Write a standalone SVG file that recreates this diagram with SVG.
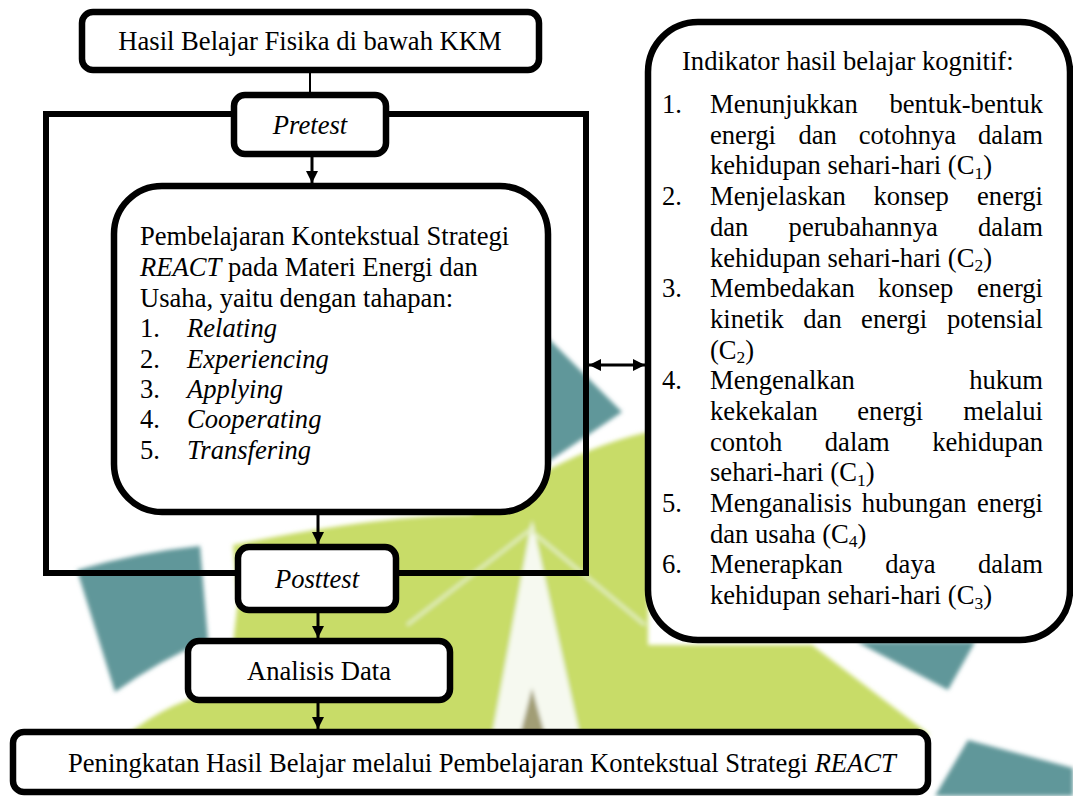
<svg xmlns="http://www.w3.org/2000/svg" width="1073" height="796" viewBox="0 0 1073 796">
<defs>
<style>
.t{font-family:"Liberation Serif","Times New Roman",serif;font-size:26.6px;fill:#000}
.i{font-style:italic}
.box{fill:#fff;stroke:#000;stroke-width:6.5}
.frame{fill:none;stroke:#000;stroke-width:6}
.con{stroke:#000;stroke-width:3;fill:none}
.thin{stroke:#000;stroke-width:2;fill:none}
.sub{font-size:17.5px}
.teal{fill:#61979a}
.lime{fill:#c8dc68}
</style>
<marker id="ah" viewBox="0 0 12 12" refX="12" refY="6" markerWidth="12" markerHeight="12" markerUnits="userSpaceOnUse" orient="auto-start-reverse"><path d="M0,0 L12,6 L0,12 Z" fill="#000"/></marker>
<filter id="soft" x="-5%" y="-5%" width="110%" height="110%"><feGaussianBlur stdDeviation="2"/></filter>
</defs>
<rect x="0" y="0" width="1073" height="796" fill="#fff"/>
<g id="watermark" filter="url(#soft)">
<path class="lime" d="M233,545 Q380,515 470,515 L530,480 Q590,445 648,432 L648,645 L812,645 L930,735 L127,735 Q170,700 228,688 L238,600 Z"/>
<path class="teal" d="M77,570 Q140,552 200,546 L208,640 Q160,660 115,692 Z"/>
<path class="teal" d="M548,338 L622,412 L548,462 Z"/>
<path class="teal" d="M857,642 L975,642 L948,690 Z"/>
<path class="teal" d="M935,796 L968,740 L1073,768 L1073,796 Z"/>
<path d="M532,520 L492,735 L580,735 Z" fill="#f6f9f0"/>
<path d="M532,688 L520,735 L545,735 Z" fill="#a19d74"/>
<path d="M407,625 L530,530 L645,625" fill="none" stroke="#e4efc4" stroke-width="3"/>
</g>
<g id="frame"><rect class="frame" x="46" y="114" width="540" height="459"/></g>
<g id="connectors">
<line class="thin" x1="310" y1="72" x2="310" y2="93"/>
<line class="con" x1="312" y1="157" x2="312" y2="183" marker-end="url(#ah)"/>
<line class="con" x1="318" y1="515" x2="318" y2="544" marker-end="url(#ah)"/>
<line class="con" x1="318" y1="613" x2="318" y2="638" marker-end="url(#ah)"/>
<line class="con" x1="318" y1="703" x2="318" y2="729" marker-end="url(#ah)"/>
<line class="con" x1="589" y1="365" x2="645" y2="365" marker-start="url(#ah)" marker-end="url(#ah)"/>
</g>
<g id="node-hasil">
<rect class="box" x="82" y="12" width="457" height="58" rx="11"/>
<text class="t" x="310" y="50" text-anchor="middle">Hasil Belajar Fisika di bawah KKM</text>
</g>
<g id="node-pretest">
<rect class="box" x="234" y="95" width="152" height="59" rx="11"/>
<text class="t i" x="310" y="134" text-anchor="middle">Pretest</text>
</g>
<g id="node-react">
<rect class="box" x="114" y="186" width="434" height="326" rx="48"/>
<text class="t" x="140" y="245">Pembelajaran Kontekstual Strategi</text>
<text class="t" x="140" y="276"><tspan class="i">REACT</tspan> pada Materi Energi dan</text>
<text class="t" x="140" y="307">Usaha, yaitu dengan tahapan:</text>
<text class="t" x="140" y="337">1.</text><text class="t i" x="187" y="337">Relating</text>
<text class="t" x="140" y="368">2.</text><text class="t i" x="187" y="368">Experiencing</text>
<text class="t" x="140" y="398">3.</text><text class="t i" x="187" y="398">Applying</text>
<text class="t" x="140" y="428">4.</text><text class="t i" x="187" y="428">Cooperating</text>
<text class="t" x="140" y="459">5.</text><text class="t i" x="187" y="459">Transfering</text>
</g>
<g id="node-posttest">
<rect class="box" x="238" y="547" width="158" height="63" rx="11"/>
<text class="t i" x="317" y="588" text-anchor="middle">Posttest</text>
</g>
<g id="node-analisis">
<rect class="box" x="188" y="641" width="262" height="59" rx="11"/>
<text class="t" x="319" y="680" text-anchor="middle">Analisis Data</text>
</g>
<g id="node-peningkatan">
<rect class="box" x="13" y="732" width="915" height="60" rx="11"/>
<text class="t" x="68" y="772">Peningkatan Hasil Belajar melalui Pembelajaran Kontekstual Strategi <tspan class="i">REACT</tspan></text>
</g>
<g id="node-indikator">
<rect class="box" x="648" y="22" width="422" height="618" rx="50"/>
<text class="t" x="682" y="70">Indikator hasil belajar kognitif:</text>
<text class="t" x="662" y="113">1.</text>
<text class="t" x="710" y="113">Menunjukkan</text>
<text class="t" x="1043" y="113" text-anchor="end">bentuk-bentuk</text>
<text class="t" x="710" y="143.7">energi</text>
<text class="t" x="798.4" y="143.7">dan</text>
<text class="t" x="858.7" y="143.7">cotohnya</text>
<text class="t" x="1043" y="143.7" text-anchor="end">dalam</text>
<text class="t" x="710" y="174.4">kehidupan sehari-hari (C<tspan class="sub" dy="4.5">1</tspan><tspan dy="-4.5">)</tspan></text>
<text class="t" x="662" y="205.1">2.</text>
<text class="t" x="710" y="205.1">Menjelaskan</text>
<text class="t" x="873.5" y="205.1">konsep</text>
<text class="t" x="1043" y="205.1" text-anchor="end">energi</text>
<text class="t" x="710" y="235.8">dan</text>
<text class="t" x="788.6" y="235.8">perubahannya</text>
<text class="t" x="1043" y="235.8" text-anchor="end">dalam</text>
<text class="t" x="710" y="266.5">kehidupan sehari-hari (C<tspan class="sub" dy="4.5">2</tspan><tspan dy="-4.5">)</tspan></text>
<text class="t" x="662" y="297.1">3.</text>
<text class="t" x="710" y="297.1">Membedakan</text>
<text class="t" x="878" y="297.1">konsep</text>
<text class="t" x="1043" y="297.1" text-anchor="end">energi</text>
<text class="t" x="710" y="327.8">kinetik</text>
<text class="t" x="803.3" y="327.8">dan</text>
<text class="t" x="861.1" y="327.8">energi</text>
<text class="t" x="1043" y="327.8" text-anchor="end">potensial</text>
<text class="t" x="710" y="358.5">(C<tspan class="sub" dy="4.5">2</tspan><tspan dy="-4.5">)</tspan></text>
<text class="t" x="662" y="389.2">4.</text>
<text class="t" x="710" y="389.2">Mengenalkan</text>
<text class="t" x="1043" y="389.2" text-anchor="end">hukum</text>
<text class="t" x="710" y="419.9">kekekalan</text>
<text class="t" x="857.3" y="419.9">energi</text>
<text class="t" x="1043" y="419.9" text-anchor="end">melalui</text>
<text class="t" x="710" y="450.6">contoh</text>
<text class="t" x="824.8" y="450.6">dalam</text>
<text class="t" x="1043" y="450.6" text-anchor="end">kehidupan</text>
<text class="t" x="710" y="481.3">sehari-hari (C<tspan class="sub" dy="4.5">1</tspan><tspan dy="-4.5">)</tspan></text>
<text class="t" x="662" y="512">5.</text>
<text class="t" x="710" y="512">Menganalisis</text>
<text class="t" x="861.7" y="512">hubungan</text>
<text class="t" x="1043" y="512" text-anchor="end">energi</text>
<text class="t" x="710" y="542.7">dan usaha (C<tspan class="sub" dy="4.5">4</tspan><tspan dy="-4.5">)</tspan></text>
<text class="t" x="662" y="573.4">6.</text>
<text class="t" x="710" y="573.4">Menerapkan</text>
<text class="t" x="885.3" y="573.4">daya</text>
<text class="t" x="1043" y="573.4" text-anchor="end">dalam</text>
<text class="t" x="710" y="604">kehidupan sehari-hari (C<tspan class="sub" dy="4.5">3</tspan><tspan dy="-4.5">)</tspan></text>
</g>
</svg>
